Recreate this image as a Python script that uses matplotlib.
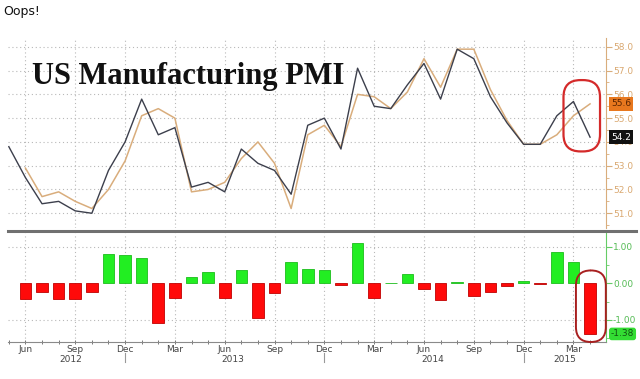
import matplotlib
matplotlib.use('Agg')
import matplotlib.pyplot as plt
import numpy as np
import pandas as pd
from matplotlib.patches import FancyBboxPatch
from matplotlib.transforms import IdentityTransform, blended_transform_factory
from matplotlib.ticker import FixedLocator, MultipleLocator

# ---------------- data ----------------
months = pd.period_range('2012-05', '2015-04', freq='M')
pmi_actual = [53.8, 52.5, 51.4, 51.5, 51.1, 51.0, 52.8, 54.0,
              55.8, 54.3, 54.6, 52.1, 52.3, 51.9, 53.7, 53.1, 52.8, 51.8, 54.7, 55.0,
              53.7, 57.1, 55.5, 55.4, 56.4, 57.3, 55.8, 57.9, 57.5, 55.9, 54.8, 53.9,
              53.9, 55.1, 55.7, 54.2]
pmi_expected = [52.9, 51.7, 51.9, 51.5, 51.2, 52.0, 53.2,
                55.1, 55.4, 55.0, 51.9, 52.0, 52.3, 53.3, 54.0, 53.1, 51.2, 54.3, 54.7,
                53.8, 56.0, 55.9, 55.4, 56.1, 57.5, 56.3, 57.9, 57.9, 56.2, 54.9, 53.9,
                53.9, 54.3, 55.1, 55.6]
surprise = [-0.42, -0.25, -0.42, -0.42, -0.23, 0.81, 0.77,
            0.70, -1.09, -0.39, 0.17, 0.31, -0.39, 0.36, -0.94, -0.26, 0.58, 0.40, 0.35,
            -0.05, 1.09, -0.41, 0.01, 0.26, -0.16, -0.46, 0.03, -0.35, -0.25, -0.08, 0.05,
            -0.03, 0.84, 0.59, -1.38]
top_ticks = [51, 52, 53, 54, 55, 56, 57, 58]
bottom_ticks = [-1.0, 0.0, 1.0]

# ---------------- layout ----------------
W, H = 640, 379
fig = plt.figure(figsize=(W / 100, H / 100), dpi=100)
fig.patch.set_facecolor('white')

def px_axes(l, t, r, b):
    return fig.add_axes([l / W, 1 - b / H, (r - l) / W, (b - t) / H])

ax1 = px_axes(8, 38, 606, 228)
ax2 = px_axes(8, 233, 606, 342)

x_all = np.arange(len(months))
x_exp = x_all[len(months) - len(pmi_expected):]
xlim = (-0.05, 35.96)

grid_kw = dict(color='#b8b8b8', linestyle=(0, (1, 2.5)), linewidth=0.8)
quarter_idx = [i for i, m in enumerate(months) if m.month in (3, 6, 9, 12)]

# ---------------- top panel ----------------
ax1.plot(x_exp, pmi_expected, color='#d9ad7c', lw=1.1, zorder=3)
ax1.plot(x_all, pmi_actual, color='#3c3f4c', lw=1.0, zorder=4)
ax1.set_xlim(*xlim)
ax1.set_ylim(50.38, 58.37)
ax1.yaxis.tick_right()
ax1.set_yticks(top_ticks)
ax1.set_yticklabels([f'{v:.1f}' for v in top_ticks])
ax1.yaxis.set_minor_locator(MultipleLocator(0.5))
ax1.tick_params(axis='y', which='major', direction='out', length=4, width=0.8,
                color='#d9ad7c', labelcolor='#d9a870', labelsize=6.5, pad=1)
ax1.tick_params(axis='y', which='minor', direction='out', length=2, width=0.6, color='#d9ad7c')
ax1.set_xticks([])
for s in ['left', 'top', 'bottom']:
    ax1.spines[s].set_visible(False)
ax1.spines['right'].set_color('#d9ad7c')
for v in top_ticks:
    ax1.axhline(v, **grid_kw, zorder=1)
for i in quarter_idx:
    ax1.axvline(i, **grid_kw, zorder=1)

ax1.text(24 / 598, 0.80, 'US Manufacturing PMI', transform=ax1.transAxes,
         fontsize=22, fontweight='bold', family='Liberation Serif', color='#111111',
         va='center', ha='left')

# value tags
tr1 = blended_transform_factory(ax1.transAxes, ax1.transData)
ax1.annotate(f'{pmi_expected[-1]:.1f}', xy=(1.0, pmi_expected[-1]), xycoords=tr1,
             xytext=(3.5, 0), textcoords='offset points', fontsize=6.5, color='#5a2400',
             va='center', ha='left', annotation_clip=False,
             bbox=dict(boxstyle='square,pad=0.25', fc='#e8781e', ec='none'))
ax1.annotate(f'{pmi_actual[-1]:.1f}', xy=(1.0, pmi_actual[-1]), xycoords=tr1,
             xytext=(3.5, 0), textcoords='offset points', fontsize=6.5, color='white',
             va='center', ha='left', annotation_clip=False,
             bbox=dict(boxstyle='square,pad=0.25', fc='#111111', ec='none'))

# ---------------- bottom panel ----------------
colors = ['#22ee22' if v >= 0 else '#ff0a0a' for v in surprise]
edges = ['#1bbd1b' if v >= 0 else '#c00000' for v in surprise]
ax2.bar(x_exp, surprise, width=0.7, color=colors, edgecolor=edges, linewidth=0.6, zorder=3)
ax2.set_xlim(*xlim)
ax2.set_ylim(-1.60, 1.37)
ax2.yaxis.tick_right()
ax2.set_yticks(bottom_ticks)
ax2.set_yticklabels([f'{v:.2f}' for v in bottom_ticks])
ax2.yaxis.set_minor_locator(MultipleLocator(0.5))
ax2.tick_params(axis='y', which='major', direction='out', length=4, width=0.8,
                color='#66cc66', labelcolor='#55bb55', labelsize=6.5, pad=1)
ax2.tick_params(axis='y', which='minor', direction='out', length=2, width=0.6, color='#66cc66')
for s in ['left', 'top']:
    ax2.spines[s].set_visible(False)
ax2.spines['right'].set_color('#66cc66')
ax2.spines['bottom'].set_color('#8a8a8a')
for v in bottom_ticks:
    if v != 0:
        ax2.axhline(v, **grid_kw, zorder=1)
for i in quarter_idx:
    ax2.axvline(i, **grid_kw, zorder=1)

ax2.set_xticks(quarter_idx)
ax2.set_xticklabels([months[i].strftime('%b') for i in quarter_idx])
ax2.xaxis.set_minor_locator(FixedLocator(x_all))
ax2.tick_params(axis='x', which='both', direction='inout', length=3, width=0.7,
                color='#777777', labelsize=6.5, labelcolor='#444444', pad=1)

tr2 = blended_transform_factory(ax2.transAxes, ax2.transData)
ax2.annotate(f'{surprise[-1]:.2f}', xy=(1.0, surprise[-1]), xycoords=tr2,
             xytext=(3.5, 0), textcoords='offset points', fontsize=6.5, color='#115511',
             va='center', ha='left', annotation_clip=False,
             bbox=dict(boxstyle='round,pad=0.2,rounding_size=0.3', fc='#33dd33', ec='none'))

# year labels and separators
trx = blended_transform_factory(ax2.transData, ax2.transAxes)
years = sorted(set(m.year for m in months))
for y in years:
    idx = [i for i, m in enumerate(months) if m.year == y]
    lo = max(idx[0] - 0.5, xlim[0])
    hi = min(idx[-1] + 0.5, xlim[1])
    ax2.text((lo + hi) / 2, -0.115, str(y), transform=trx, ha='center', va='top',
             fontsize=6.5, color='#444444')
    dec = [i for i in idx if months[i].month == 12]
    for d in dec:
        ax2.plot([d, d], [-0.105, -0.185], transform=trx, color='#999999', lw=0.8,
                 clip_on=False)

# separator line between panels
sep_y = 1 - 231 / H
fig.add_artist(plt.Line2D([8 / W, 636 / W], [sep_y, sep_y], color='#707070', lw=2.2))

# red highlight ovals around last observation
fig.canvas.draw()
last = x_all[-1]
hi_top = max(pmi_actual[-2:] + pmi_expected[-2:])
lo_top = min(pmi_actual[-2:] + pmi_expected[-2:])
p0 = ax1.transData.transform((last - 1.6, lo_top - 0.6))
p1 = ax1.transData.transform((last + 0.6, hi_top + 0.9))
fig.add_artist(FancyBboxPatch((p0[0], p0[1]), p1[0] - p0[0], p1[1] - p0[1],
                              boxstyle='round,pad=0,rounding_size=17',
                              transform=IdentityTransform(), fill=False,
                              ec='#d42a2a', lw=1.6, zorder=10))
q0 = ax2.transData.transform((last - 0.85, surprise[-1] - 0.22))
q1 = ax2.transData.transform((last + 0.95, 0.35))
fig.add_artist(FancyBboxPatch((q0[0], q0[1]), q1[0] - q0[0], q1[1] - q0[1],
                              boxstyle='round,pad=0,rounding_size=15',
                              transform=IdentityTransform(), fill=False,
                              ec='#a82020', lw=1.4, zorder=10))

fig.text(3 / W, 1 - 12 / H, 'Oops!', fontsize=9, color='#111111', va='center', ha='left')

fig.savefig('out.png', dpi=100)
